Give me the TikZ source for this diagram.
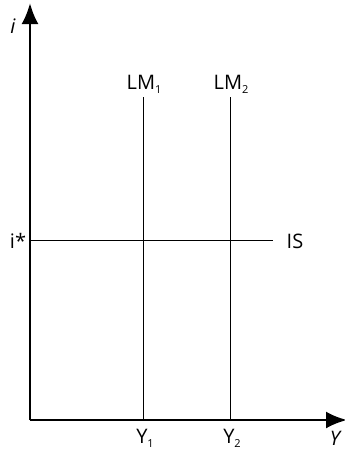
\documentclass[tikz,border=0pt]{standalone}
\usepackage{fontspec}
\setmainfont{Open Sans}
\usetikzlibrary{arrows.meta}
\tikzset{
  axis/.style={line width=2.7pt, -{Latex[length=21pt,width=17pt]}},
  curve/.style={line width=0.8pt},
  lbl/.style={font=\fontsize{20}{24}\selectfont, inner sep=0pt},
}
\newcommand{\lowsub}[1]{\raisebox{-0.35ex}{\fontsize{11}{12}\selectfont #1}}
\begin{document}
\begin{tikzpicture}[x=1pt, y=-1pt]
  \useasboundingbox (0,0) rectangle (345,451);
  % Axes
  \coordinate (O) at (30,420);
  \coordinate (itop) at (30,3);
  \coordinate (yend) at (347,420);
  \draw[axis] (O) -- (itop);
  \draw[axis] (O) -- (yend);
  \node[lbl] (ilab) at (13,26) {\itshape i};
  \node[lbl] (ylab) at (335,438) {\itshape Y};
  % LM curves
  \node[lbl] (lm1) at (144,84) {LM\lowsub{1}};
  \node[lbl] (lm2) at (231,84) {LM\lowsub{2}};
  \coordinate (lm1top) at (143,97);
  \coordinate (lm2top) at (230,97);
  \node[lbl] (y1) at (145,438) {Y\lowsub{1}};
  \node[lbl] (y2) at (232,438) {Y\lowsub{2}};
  \draw[curve] (lm1top) -- (lm1top |- O);
  \draw[curve] (lm2top) -- (lm2top |- O);
  % IS curve
  \coordinate (isleft) at (30,240.5);
  \coordinate (isright) at (273,240.5);
  \node[lbl] (isl) at (295,241) {IS};
  \node[lbl] (istar) at (18,241) {i*};
  \draw[curve] (isleft) -- (isright);
\end{tikzpicture}
\end{document}
